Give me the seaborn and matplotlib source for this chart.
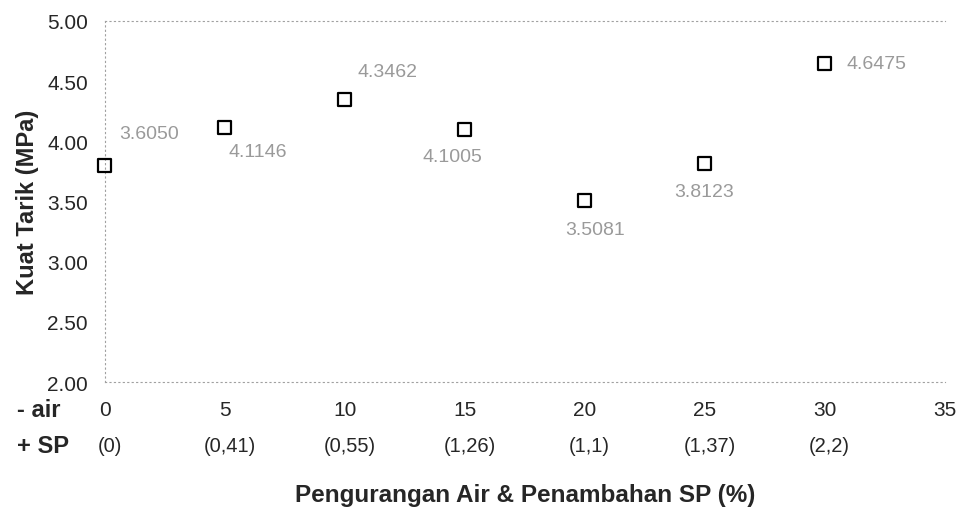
import matplotlib
matplotlib.use("Agg")
import matplotlib.pyplot as plt
import matplotlib.transforms as mtransforms
import seaborn as sns
import pandas as pd

# data
air_reduction = [0, 5, 10, 15, 20, 25, 30]
tensile_strength = [3.80, 4.1146, 4.3462, 4.1005, 3.5081, 3.8123, 4.6475]
point_labels = ["3.6050", "4.1146", "4.3462", "4.1005", "3.5081", "3.8123", "4.6475"]
sp_labels = ["(0)", "(0,41)", "(0,55)", "(1,26)", "(1,1)", "(1,37)", "(2,2)"]
x_ticks = [0, 5, 10, 15, 20, 25, 30, 35]
y_ticks = [2.0, 2.5, 3.0, 3.5, 4.0, 4.5, 5.0]

# label offsets in pixels (dx, dy) for each point
label_offsets = [(44, 32), (33, -24), (43, 28), (-12, -27), (10, -29), (-1, -28), (52, 0)]

df = pd.DataFrame({"air": air_reduction, "kuat": tensile_strength})

sns.set_style("white")
plt.rcParams["font.family"] = ["Liberation Sans", "DejaVu Sans"]

fig = plt.figure(figsize=(9.6, 5.1), dpi=100)
ax = fig.add_axes([0.109, 0.249, 0.875, 0.708])

sns.scatterplot(
    df,
    x="air",
    y="kuat",
    marker="s",
    s=85,
    facecolor="none",
    edgecolor="black",
    linewidth=1.6,
    clip_on=False,
    ax=ax,
    zorder=3,
)

for xv, yv, lab, (dx, dy) in zip(air_reduction, tensile_strength, point_labels, label_offsets):
    ax.annotate(
        lab,
        (xv, yv),
        xytext=(dx, dy),
        textcoords="offset pixels",
        ha="center",
        va="center",
        fontsize=14,
        color="#9a9a9a",
    )

ax.set_xlim(0, 35)
ax.set_ylim(2.0, 5.0)
ax.set_xticks(x_ticks)
ax.set_xticklabels([str(t) for t in x_ticks], fontsize=15)
ax.set_yticks(y_ticks)
ax.set_yticklabels([f"{t:.2f}" for t in y_ticks], fontsize=15)
ax.tick_params(axis="x", length=0, pad=13)
ax.tick_params(axis="y", length=4, width=0.6, color="#aaaaaa", pad=8)

for side in ["left", "bottom", "top"]:
    ax.spines[side].set_linestyle((0, (1, 3)))
    ax.spines[side].set_color("#a0a0a0")
    ax.spines[side].set_linewidth(0.8)
ax.spines["right"].set_visible(False)

ax.set_xlabel("")
ax.set_ylabel("Kuat Tarik (MPa)", fontsize=17, fontweight="bold", labelpad=6)

# second row of x labels (superplasticizer)
trans = mtransforms.blended_transform_factory(ax.transData, fig.transFigure)
for xv, lab in zip(air_reduction, sp_labels):
    ax.text(xv + 0.2, 0.125, lab, transform=trans, ha="center", va="center", fontsize=14.5)

fig.text(0.018, 0.195, "- air", fontsize=17, fontweight="bold", ha="left", va="center")
fig.text(0.018, 0.125, "+ SP", fontsize=17, fontweight="bold", ha="left", va="center")
fig.text(0.547, 0.028, "Pengurangan Air & Penambahan SP (%)", fontsize=17.5,
         fontweight="bold", ha="center", va="center")

fig.savefig("out.png", dpi=100)
